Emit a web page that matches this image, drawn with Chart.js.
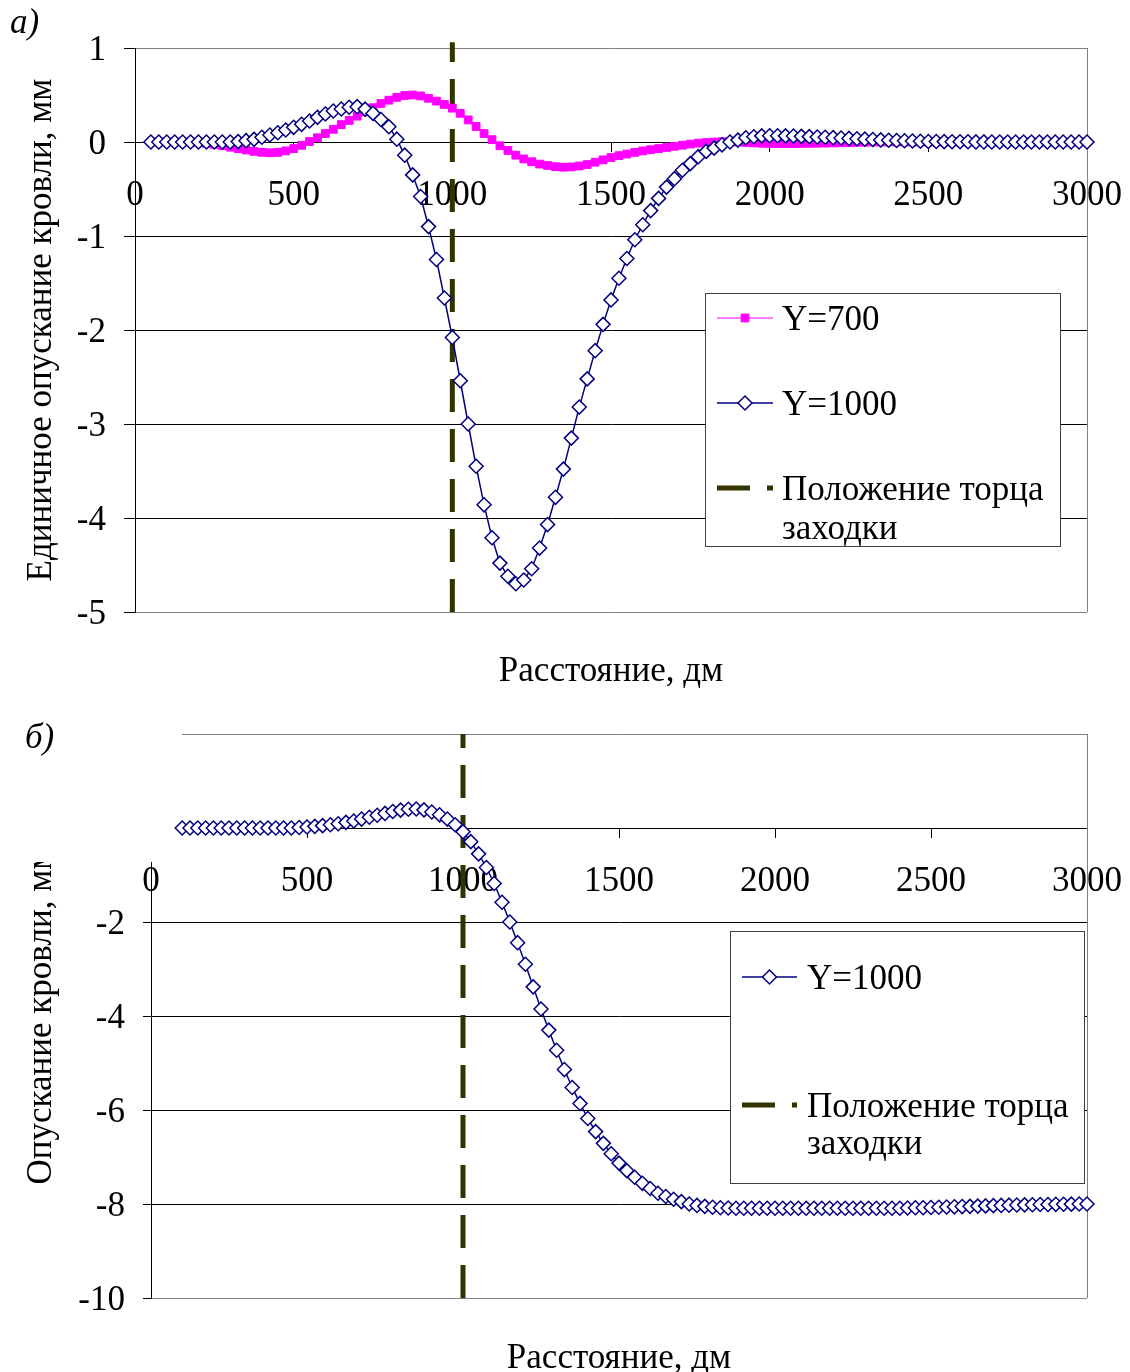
<!DOCTYPE html>
<html>
<head>
<meta charset="utf-8">
<script src="https://cdn.jsdelivr.net/npm/chart.js@4.4.1/dist/chart.umd.min.js"></script>
<style>
body { margin: 0; background: #fff; }
#page { position: relative; width: 1130px; height: 1372px; background: #fff; overflow: hidden; }
canvas { position: absolute; left: 0; }
#chartA { top: 0; }
#chartB { top: 690px; }
</style>
</head>
<body>
<div id="page">
<canvas id="chartA" width="1130" height="690"></canvas>
<canvas id="chartB" width="1130" height="682"></canvas>
</div>
<script>
const FONT = '"Liberation Serif", "Times New Roman", serif';
const FSIZE = 35;

// panel а) : distance, dm
const distA = [50,75,100,125,150,175,200,225,250,275,300,325,350,375,400,425,450,475,500,525,
  550,575,600,625,650,675,700,725,750,775,800,825,850,875,900,925,950,975,1000,1025,
  1050,1075,1100,1125,1150,1175,1200,1225,1250,1275,1300,1325,1350,1375,1400,1425,1450,1475,1500,1525,
  1550,1575,1600,1625,1650,1675,1700,1725,1750,1775,1800,1825,1850,1875,1900,1925,1950,1975,2000,2025,
  2050,2075,2100,2125,2150,2175,2200,2225,2250,2275,2300,2325,2350,2375,2400,2425,2450,2475,2500,2525,
  2550,2575,2600,2625,2650,2675,2700,2725,2750,2775,2800,2825,2850,2875,2900,2925,2950,2975,3000];

const y700 = [0,0,0,0,0,0,
  -0.005,-0.015,-0.025,-0.04,-0.055,-0.07,-0.085,-0.1,-0.11,-0.115,-0.11,-0.095,-0.07,-0.035,
  0.005,0.045,0.09,0.135,0.185,0.23,0.275,0.32,0.365,0.41,0.445,0.475,0.495,0.5,0.49,0.465,0.435,0.4,0.36,0.305,
  0.235,0.165,0.09,0.025,-0.04,-0.09,-0.14,-0.18,-0.21,-0.235,-0.25,-0.262,-0.268,-0.265,-0.255,-0.24,-0.215,-0.19,-0.165,-0.145,
  -0.128,-0.11,-0.095,-0.082,-0.07,-0.058,-0.046,-0.034,-0.022,-0.012,-0.006,0,0.003,0.003,0,-0.005,-0.01,-0.013,-0.015,-0.016,
  -0.016,-0.016,-0.015,-0.014,-0.013,-0.012,-0.01,-0.008,-0.006,-0.004,-0.002,
  0,0,0,0,0,0,0,0,0,0,0,0,0,0,0,0,0,0,0,0,0,0,0,0,0,0,0,0];

const y1000 = [0,0,0,0,0,0,0,0,0,0,0,
  0.004,0.014,0.028,0.05,0.074,0.099,0.128,0.156,0.188,0.223,0.262,0.298,0.33,0.351,0.369,0.376,0.35,0.305,0.24,0.163,0.03,
  -0.14,-0.35,-0.58,-0.9,-1.25,-1.66,-2.08,-2.54,-3.0,-3.45,-3.86,-4.21,-4.48,-4.62,-4.7,-4.66,-4.54,-4.32,-4.07,-3.78,
  -3.48,-3.15,-2.82,-2.52,-2.22,-1.94,-1.68,-1.45,-1.24,-1.04,-0.88,-0.73,-0.6,-0.48,-0.39,-0.3,-0.23,-0.156,-0.1,-0.065,-0.03,
  0,0.02,0.045,0.056,0.065,0.067,0.067,0.065,0.063,0.06,0.057,0.053,0.05,0.046,0.042,0.038,0.034,0.03,0.026,0.022,
  0.019,0.016,0.013,0.01,0.008,0.006,0.005,0.004,0.003,0.002,0.002,0.001,0.001,
  0,0,0,0,0,0,0,0,0,0,0,0,0];

const faceXA = [1000, 1000];
const faceYA = [-5, 1.06];

// panel б)
const distB = [100,125,150,175,200,225,250,275,300,325,350,375,400,425,450,475,500,525,
  550,575,600,625,650,675,700,725,750,775,800,825,850,875,900,925,950,975,1000,1025,
  1050,1075,1100,1125,1150,1175,1200,1225,1250,1275,1300,1325,1350,1375,1400,1425,1450,1475,1500,1525,
  1550,1575,1600,1625,1650,1675,1700,1725,1750,1775,1800,1825,1850,1875,1900,1925,1950,1975,2000,2025,
  2050,2075,2100,2125,2150,2175,2200,2225,2250,2275,2300,2325,2350,2375,2400,2425,2450,2475,2500,2525,
  2550,2575,2600,2625,2650,2675,2700,2725,2750,2775,2800,2825,2850,2875,2900,2925,2950,2975,3000];

const y1000B = [0,0,0,0,0,0,0,0,0,0,0,0,0,0,0,
  0.01,0.02,0.035,0.05,0.07,0.09,0.12,0.15,0.19,0.23,
  0.27,0.31,0.35,0.38,0.4,0.405,0.385,0.34,0.28,0.19,
  0.07,-0.08,-0.29,-0.55,-0.84,-1.18,-1.58,-2.0,-2.44,-2.9,
  -3.38,-3.85,-4.3,-4.73,-5.14,-5.52,-5.86,-6.18,-6.46,-6.71,
  -6.93,-7.13,-7.29,-7.43,-7.56,-7.67,-7.77,-7.84,-7.9,-7.95,
  -8.0,-8.03,-8.05,-8.07,-8.08,-8.085,-8.09,
  -8.09,-8.09,-8.09,-8.09,-8.09,-8.09,-8.09,-8.09,-8.09,-8.09,-8.09,
  -8.09,-8.09,-8.09,-8.09,-8.09,-8.09,-8.09,-8.09,-8.09,-8.09,
  -8.085,-8.08,-8.08,-8.075,-8.07,-8.065,-8.06,-8.055,-8.05,-8.045,-8.04,-8.035,
  -8.03,-8.025,-8.02,-8.018,-8.015,-8.012,-8.01,-8.007,-8.005,-8.003,-8.001,-8.0];

const faceXB = [1000, 1000];
const faceYB = [-10, 2];

const legendA = ['Y=700', 'Y=1000', 'Положение торца', 'заходки'];
const legendB = ['Y=1000', 'Положение торца', 'заходки'];

function toPoints(xs, ys) {
  return xs.map((x, i) => ({ x: x, y: ys[i] }));
}

function blueSeries(xs, ys) {
  return {
    label: 'Y=1000', data: toPoints(xs, ys),
    borderColor: '#000080', borderWidth: 1.5, tension: 0,
    pointStyle: 'rectRot', pointRadius: 7,
    pointBackgroundColor: '#fff', pointBorderColor: '#000080', pointBorderWidth: 1.5,
    clip: false, order: 0
  };
}

function pinkSeries(xs, ys) {
  return {
    label: 'Y=700', data: toPoints(xs, ys),
    borderColor: '#ff00ff', borderWidth: 1, tension: 0,
    pointStyle: 'rect', pointRadius: 5.5,
    pointBackgroundColor: '#ff00ff', pointBorderColor: '#ff00ff', pointBorderWidth: 1,
    clip: false, order: 1
  };
}

function faceSeries(xs, ys) {
  return {
    label: 'Положение торца заходки', data: toPoints(xs, ys),
    borderColor: '#333300', borderWidth: 5, borderDash: [33, 17], borderCapStyle: 'butt',
    pointRadius: 0, tension: 0, clip: false, order: 2
  };
}

// frame, x title, panel letter and the boxed legend
const decorPlugin = {
  id: 'decor',
  beforeDatasetsDraw(chart, args, opts) {
    const { ctx, chartArea } = chart;
    ctx.save();
    ctx.strokeStyle = '#808080';
    ctx.lineWidth = 1;
    ctx.beginPath();
    ctx.moveTo(Math.round(chartArea.right) + 0.5, chartArea.top);
    ctx.lineTo(Math.round(chartArea.right) + 0.5, chartArea.bottom);
    ctx.stroke();
    // the lower figure has its top-left corner blanked out in the source
    if (opts.mask) {
      ctx.fillStyle = '#fff';
      ctx.fillRect(opts.mask.x, opts.mask.y, opts.mask.w, opts.mask.h);
    }
    ctx.restore();
  },
  afterDraw(chart, args, opts) {
    const { ctx, chartArea } = chart;
    ctx.save();
    ctx.fillStyle = '#000';
    ctx.textBaseline = 'middle';
    ctx.font = FSIZE + 'px ' + FONT;
    ctx.textAlign = 'center';
    ctx.fillText(opts.xTitle, (chartArea.left + chartArea.right) / 2, chartArea.bottom + opts.xTitleGap);
    ctx.textAlign = 'left';
    ctx.font = 'italic ' + FSIZE + 'px ' + FONT;
    ctx.fillText(opts.panel, opts.panelX, opts.panelY);

    const lg = opts.legend;
    ctx.fillStyle = '#fff';
    ctx.fillRect(lg.left, lg.top, lg.width, lg.height);
    ctx.strokeStyle = '#404040';
    ctx.lineWidth = 1;
    ctx.strokeRect(lg.left + 0.5, lg.top + 0.5, lg.width, lg.height);
    ctx.font = FSIZE + 'px ' + FONT;
    lg.items.forEach(item => {
      const ds = chart.data.datasets[item.dataset];
      const y = lg.top + item.dy;
      const x0 = lg.left + lg.sampleFrom;
      const x1 = lg.left + lg.sampleTo;
      ctx.save();
      ctx.strokeStyle = ds.borderColor;
      ctx.lineWidth = ds.borderWidth;
      ctx.setLineDash(ds.borderDash || []);
      ctx.lineCap = 'butt';
      ctx.beginPath();
      ctx.moveTo(x0, y);
      ctx.lineTo(x1, y);
      ctx.stroke();
      ctx.restore();
      if (ds.pointRadius > 0) {
        ctx.fillStyle = ds.pointBackgroundColor;
        ctx.strokeStyle = ds.pointBorderColor;
        ctx.lineWidth = ds.pointBorderWidth;
        Chart.helpers.drawPoint(ctx, { pointStyle: ds.pointStyle, radius: ds.pointRadius, borderWidth: ds.pointBorderWidth, rotation: 0 }, (x0 + x1) / 2, y);
      }
      ctx.fillStyle = '#000';
      item.text.forEach((t, k) => ctx.fillText(t, lg.left + lg.textX, y + 3 + k * lg.lineGap));
    });
    ctx.restore();
  }
};

function makeChart(id, cfg) {
  return new Chart(document.getElementById(id), {
    type: 'line',
    data: { datasets: cfg.datasets },
    options: {
      responsive: false,
      animation: false,
      devicePixelRatio: 1,
      events: [],
      layout: { padding: cfg.padding },
      plugins: {
        legend: { display: false },
        tooltip: { enabled: false },
        decor: cfg.decor
      },
      scales: {
        x: {
          type: 'linear', min: 0, max: 3000,
          position: { y: 0 },
          ticks: {
            stepSize: 500, autoSkip: false, maxRotation: 0, padding: 2, color: '#000',
            // tall line box pushes the labels down without widening the side padding
            font: { family: FONT, size: FSIZE, lineHeight: 2.457 },
            callback: v => String(v)
          },
          grid: { drawOnChartArea: false, drawTicks: true, tickLength: 9, color: '#000' },
          border: { display: true, color: '#000' }
        },
        y: {
          type: 'linear', min: cfg.yMin, max: cfg.yMax,
          afterFit: scale => { scale.width = cfg.yWidth; },
          ticks: {
            stepSize: cfg.yStep, padding: 18, labelOffset: 3, color: '#000', font: { family: FONT, size: FSIZE },
            callback: cfg.yLabel
          },
          grid: {
            tickLength: cfg.yTick, tickColor: '#000',
            color: c => (c.tick && (c.tick.value === cfg.yMin || c.tick.value === cfg.yMax)) ? '#808080' : '#000'
          },
          border: { display: true, color: '#000' },
          title: { display: true, text: cfg.yTitle, color: '#000', font: { family: FONT, size: FSIZE }, padding: { top: 21, bottom: 0 } }
        }
      }
    },
    plugins: [decorPlugin]
  });
}

makeChart('chartA', {
  datasets: [blueSeries(distA, y1000), pinkSeries(distA, y700), faceSeries(faceXA, faceYA)],
  padding: { left: 0, right: 43, top: 48, bottom: 78 },
  yMin: -5, yMax: 1, yStep: 1, yWidth: 135, yTick: 11,
  yLabel: v => String(v),
  yTitle: 'Единичное опускание кровли, мм',
  decor: {
    xTitle: 'Расстояние, дм', xTitleGap: 60,
    panel: 'а)', panelX: 10, panelY: 24,
    legend: {
      left: 705, top: 293, width: 355, height: 253,
      sampleFrom: 12, sampleTo: 68, textX: 77, lineGap: 39,
      items: [
        { dataset: 1, dy: 25, text: [legendA[0]] },
        { dataset: 0, dy: 110, text: [legendA[1]] },
        { dataset: 2, dy: 195, text: [legendA[2], legendA[3]] }
      ]
    }
  }
});

makeChart('chartB', {
  datasets: [blueSeries(distB, y1000B), faceSeries(faceXB, faceYB)],
  padding: { left: 0, right: 43, top: 44, bottom: 74 },
  yMin: -10, yMax: 2, yStep: 2, yWidth: 151, yTick: 8,
  yLabel: v => (v < 0 ? String(v) : ''),
  yTitle: 'Опускание кровли, мм',
  decor: {
    xTitle: 'Расстояние, дм', xTitleGap: 61,
    panel: 'б)', panelX: 25, panelY: 49,
    mask: { x: 0, y: 36, w: 182, h: 136 },
    legend: {
      left: 730, top: 241, width: 354, height: 252,
      sampleFrom: 12, sampleTo: 67, textX: 77, lineGap: 37,
      items: [
        { dataset: 0, dy: 46, text: [legendB[0]] },
        { dataset: 1, dy: 174, text: [legendB[1], legendB[2]] }
      ]
    }
  }
});
</script>
</body>
</html>
